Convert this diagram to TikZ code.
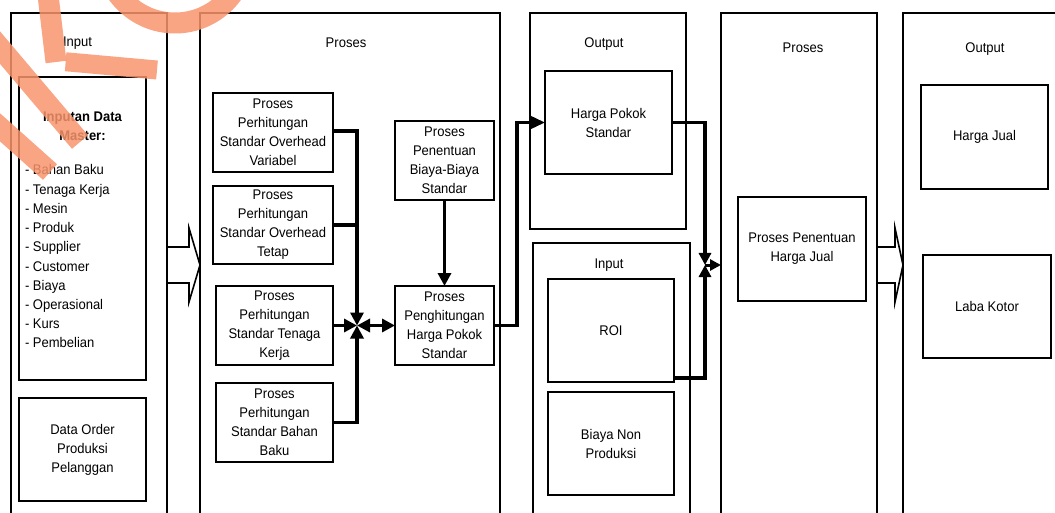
\documentclass[tikz,border=0pt]{standalone}
\usepackage{fontspec}
\setmainfont{Liberation Sans}[FakeStretch=0.93]
\usetikzlibrary{arrows.meta}
\definecolor{wm}{RGB}{248,148,108}
\begin{document}
\begin{tikzpicture}[x=1pt,y=-1pt,
  every node/.style={font=\fontsize{14}{19}\selectfont, inner sep=0pt, outer sep=0pt},
  lanebox/.style={draw, line width=1.6pt, minimum width=#1},
  bx/.style={draw, line width=2pt, align=center},
  conn/.style={line width=3.4pt, -{Triangle[length=13pt,width=13pt]}},
  plain/.style={line width=3.4pt},
  blockarrow/.style={draw, line width=1.6pt, fill=white, line join=miter},
  wmark/.style={fill=wm, fill opacity=0.85, draw=none}
]
\useasboundingbox (0,0) rectangle (1055,513);

% lanes
\node[lanebox=156pt, minimum height=527pt] (lane1) at (89,276.5) {};
\node[lanebox=300pt, minimum height=527pt] (lane2) at (350,276.5) {};
\node[lanebox=156pt, minimum height=216pt] (outtop) at (608,121) {};
\node[lanebox=157pt, minimum height=297pt] (inlane) at (611.5,391.5) {};
\node[lanebox=156pt, minimum height=527pt] (lane3) at (799,276.5) {};
\node[lanebox=177pt, minimum height=527pt] (lane4) at (991.5,276.5) {};

% titles
\node[anchor=base] (t1) at (77.5,47) {Input};
\node[anchor=base] (t2) at (346,48) {Proses};
\node[anchor=base] (t3) at (604,48) {Output};
\node[anchor=base] (t4) at (609,269) {Input};
\node[anchor=base] (t5) at (803,53) {Proses};
\node[anchor=base] (t6) at (985,53) {Output};

% input lane
\node[bx, minimum width=127pt, minimum height=303pt] (master) at (82.5,228.5) {};
\node[align=center, font=\fontsize{14}{19}\selectfont\bfseries] (mtitle) at (82.5,126) {Inputan Data\\Master:};
\foreach \t [count=\i] in {Bahan Baku, Tenaga Kerja, Mesin, Produk, Supplier, Customer, Biaya, Operasional, Kurs, Pembelian}
  \node[anchor=base west] (li\i) at (25,{175+19.2*(\i-1)}) {- \t};
\node[bx, minimum width=127pt, minimum height=103pt] (order) at (82.5,449.5) {Data Order\\Produksi\\Pelanggan};

% proses lane
\node[bx, minimum width=120pt, minimum height=79pt] (b1) at (273,132.5) {Proses\\Perhitungan\\Standar Overhead\\Variabel};
\node[bx, minimum width=120pt, minimum height=78pt] (b2) at (273,225) {Proses\\Perhitungan\\Standar Overhead\\Tetap};
\node[bx, minimum width=117pt, minimum height=79pt] (b3) at (274.5,325.5) {Proses\\Perhitungan\\Standar Tenaga\\Kerja};
\node[bx, minimum width=117pt, minimum height=79pt] (b4) at (274.5,422.5) {Proses\\Perhitungan\\Standar Bahan\\Baku};
\node[bx, minimum width=99pt, minimum height=79pt] (b5) at (444.5,160.5) {Proses\\Penentuan\\Biaya-Biaya\\Standar};
\node[bx, minimum width=99pt, minimum height=79pt] (b6) at (444.5,325.5) {Proses\\Penghitungan\\Harga Pokok\\Standar};
\coordinate (J) at (357,325.5);

% output / input (middle)
\node[bx, minimum width=127pt, minimum height=103pt] (hps) at (608.5,122.5) {Harga Pokok\\Standar};
\node[bx, minimum width=126pt, minimum height=103pt] (roi) at (611,330.5) {ROI};
\node[bx, minimum width=126pt, minimum height=103pt] (bnp) at (611,443.5) {Biaya Non\\Produksi};
\coordinate (J2) at (705,265);

% proses 3 / output
\node[bx, minimum width=128pt, minimum height=104pt] (hj) at (802,249) {Proses Penentuan\\Harga Jual};
\node[bx, minimum width=127pt, minimum height=104pt] (hjual) at (984.5,137) {Harga Jual};
\node[bx, minimum width=128pt, minimum height=103pt] (laba) at (987,306.5) {Laba Kotor};

% connectors
\draw[conn] ([yshift=1.5pt]b1.east) -- ([yshift=1.5pt]b1.east -| J) -- (J);
\draw[plain] (b2.east) -- (b2.east -| J);
\draw[conn] (b3.east) -- (J);
\draw[conn] (b4.east) -- (b4.east -| J) -- (J);
\draw[plain, {Triangle[length=13pt,width=13pt]}-{Triangle[length=13pt,width=13pt]}] (J) -- (b6.west);
\draw[conn] (b5.south) -- (b6.north);
\draw[plain, -{Triangle[length=16pt,width=14pt]}] (b6.east) -- ++(23,0) |- (hps.west);
\draw[plain, -{Triangle[length=12pt,width=12pt]}] (hps.east) -| (J2);
\draw[plain, -{Triangle[length=12pt,width=12pt]}] ([yshift=4pt]roi.south east) -| (J2);
\draw[line width=3pt, -{Triangle[length=11pt,width=11pt]}] (J2) -- (J2 -| lane3.west);

% block arrows
\path[blockarrow] (lane1.east |- 0,247) -- (189,247) -- (189,228) -- (lane2.west |- 0,265) -- (189,302) -- (189,283) -- (lane1.east |- 0,283) -- cycle;
\path[blockarrow] (lane3.east |- 0,247) -- (895,247) -- (895,228) -- (lane4.west |- 0,265) -- (895,302) -- (895,283) -- (lane3.east |- 0,283) -- cycle;

% watermark
\fill[wmark] (-12,17.2) -- (88,135.2) -- (72,148.8) -- (-28,30.8) -- cycle;
\fill[wmark] (-18,97.2) -- (57,164.2) -- (43,179.8) -- (-32,112.8) -- cycle;
\fill[wmark] (58.4,-6.25) -- (66.4,60.75) -- (45.6,63.25) -- (37.6,-3.75) -- cycle;
\fill[wmark] (66.4,52.3) -- (157.85,60.54) -- (156.15,79.46) -- (64.9,71.2) -- cycle;
\fill[wmark, even odd rule] (175,-48) circle[radius=81.5] (175,-48) circle[radius=60.5];
\end{tikzpicture}
\end{document}
